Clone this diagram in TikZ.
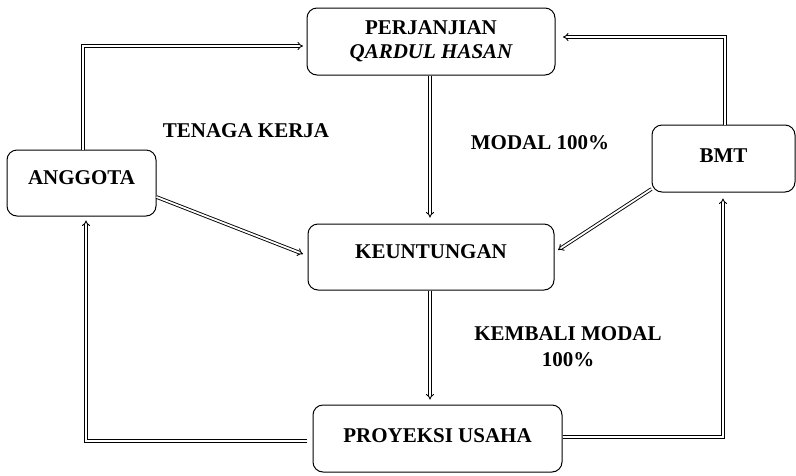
\documentclass[tikz,border=0pt]{standalone}
\usepackage{fontspec}
\setmainfont{Liberation Serif}
\usetikzlibrary{arrows.meta}
\begin{document}
\begin{tikzpicture}[x=1pt,y=-1pt,
  box/.style={draw,line width=1pt,rounded corners=10pt,inner sep=0pt,align=center,
    font=\fontsize{21}{24}\selectfont\bfseries},
  lab/.style={inner sep=0pt,align=center,font=\fontsize{21}{26}\selectfont\bfseries},
  dbl/.style={double,double distance=1.8pt,line width=0.9pt,-{Implies[length=5pt]}},
  dblnoa/.style={double,double distance=1.8pt,line width=0.9pt}]
\useasboundingbox (0,0) rectangle (796,475);
\node[box,minimum width=248pt,minimum height=67pt] (perj) at (431,41.5)
  {PERJANJIAN\\\itshape QARDUL HASAN};
\node[box,minimum width=143pt,minimum height=67pt,text depth=6pt] (bmt) at (723.5,158.5) {BMT};
\node[box,minimum width=149pt,minimum height=66pt,text depth=10pt] (ang) at (81.5,183) {ANGGOTA};
\node[box,minimum width=246pt,minimum height=66pt,text depth=10pt] (keu) at (431,257) {KEUNTUNGAN};
\node[box,minimum width=249pt,minimum height=67pt,text depth=6pt] (proy) at (437.5,438.5) {PROYEKSI USAHA};

\node[lab] (tk) at (246,131) {TENAGA KERJA};
\node[lab] (mod) at (540,143) {MODAL 100\%};
\node[lab] (km) at (568,347) {KEMBALI MODAL\\100\%};

\coordinate (c1) at (83,46);
\coordinate (c1e) at (303,46);
\coordinate (c2) at (725,37);
\coordinate (c2e) at (563,37);
\coordinate (c7) at (307,441);
\coordinate (c7a) at (86,441);
\coordinate (c8) at (723,437);

\draw[dbl] (ang.north -| c1) -- (c1) -- (c1e);
\draw[dbl] (bmt.north -| c2) -- (c2) -- (c2e);
\draw[dbl,shorten >=6pt] (perj.south -| 430,0) -- (keu.north -| 430,0);
\draw[dbl] (ang.east |- 0,197) -- (303,254);
\draw[dbl] (bmt.west |- 0,189) -- (558,250);
\draw[dbl,shorten >=5pt] (keu.south -| 430,0) -- (proy.north -| 430,0);
\draw[dbl,shorten >=4pt] (c7) -- (c7a) -- (ang.south -| c7a);
\draw[dbl,shorten >=6pt] (proy.east |- 0,437) -- (c8) -- (bmt.south -| c8);
\end{tikzpicture}
\end{document}
